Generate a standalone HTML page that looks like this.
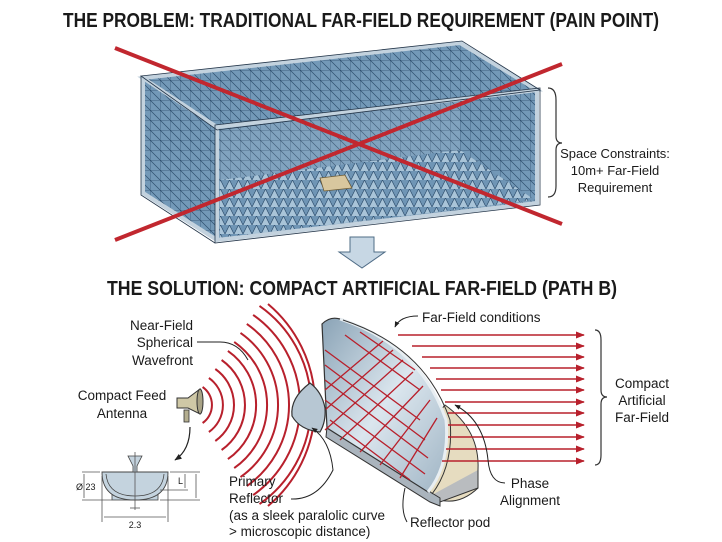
<!DOCTYPE html>
<html><head><meta charset="utf-8"><style>
html,body{margin:0;padding:0;background:#fff}
svg{display:block}
text{font-family:"Liberation Sans",sans-serif;fill:#1a1a1a}
</style></head><body>
<svg width="722" height="542" viewBox="0 0 722 542" xmlns="http://www.w3.org/2000/svg">
<defs>
<pattern id="cone" width="9" height="9" patternUnits="userSpaceOnUse">
<rect width="9" height="9" fill="#6f95b5"/>
<path d="M0 9 L4.5 0 L9 9" fill="#a9c4d8" stroke="#2f4f6e" stroke-width="0.7"/>
</pattern>
<pattern id="grid" width="10" height="10" patternUnits="userSpaceOnUse">
<rect width="10" height="10" fill="#7399b8"/>
<path d="M0 0 H10 M0 0 V10 M0 0 L10 10" stroke="#2f4f6e" stroke-width="0.7"/>
</pattern>
<linearGradient id="dish" x1="0" y1="0" x2="1" y2="1">
<stop offset="0" stop-color="#8aa3b6"/><stop offset="0.5" stop-color="#dbe6ee"/><stop offset="1" stop-color="#9fb4c4"/>
</linearGradient>
<marker id="ah" viewBox="0 0 10 10" refX="9" refY="5" markerWidth="6" markerHeight="6" orient="auto"><path d="M0 1 L10 5 L0 9z" fill="#b8202c"/></marker>
<marker id="bk" viewBox="0 0 10 10" refX="9" refY="5" markerWidth="6" markerHeight="6" orient="auto"><path d="M0 1 L10 5 L0 9z" fill="#222"/></marker>
</defs>

<text x="361" y="27" text-anchor="middle" font-size="20" font-weight="bold" textLength="596" lengthAdjust="spacingAndGlyphs">THE PROBLEM: TRADITIONAL FAR-FIELD REQUIREMENT (PAIN POINT)</text>

<!-- chamber -->
<polygon points="143,78 460,43 537,90 217,127" fill="url(#grid)" stroke="#223" stroke-width="1"/>
<polygon points="460,43 537,90 537,203 460,150" fill="url(#grid)"/>
<polygon points="143,78 217,127 217,240 143,193" fill="url(#grid)" stroke="#223"/>
<polygon points="217,127 537,90 537,203 217,240" fill="url(#grid)" opacity="0.9"/>
<polygon points="220,180 460,150 535,200 220,238" fill="url(#cone)"/>
<polygon points="320,178 345,175 352,188 324,191" fill="#d8c79e" stroke="#6b5a35" stroke-width="0.8"/>
<g fill="none" stroke="#c3d2de" stroke-width="4">
<polygon points="143,78 460,43 537,90 217,127"/>
<polygon points="217,127 537,90 537,203 217,240"/>
<polyline points="143,78 143,193 217,240"/>
</g>
<g fill="none" stroke="#24364a" stroke-width="0.8">
<polygon points="141,76 462,41 540,90 217,130"/>
<polygon points="215,125 540,88 540,205 215,243"/>
<polyline points="141,76 141,195 215,243"/>
</g>
<line x1="115" y1="48" x2="562" y2="224" stroke="#c1272f" stroke-width="4"/>
<line x1="115" y1="240" x2="562" y2="64" stroke="#c1272f" stroke-width="4"/>
<path d="M548 88 Q556 88 556 100 L556 136 Q556 143 562 143 Q556 143 556 150 L556 186 Q556 197 548 197" fill="none" stroke="#333" stroke-width="1.2"/>
<text x="615" y="158" text-anchor="middle" font-size="13">Space Constraints:</text>
<text x="615" y="175" text-anchor="middle" font-size="13">10m+ Far-Field</text>
<text x="615" y="192" text-anchor="middle" font-size="13">Requirement</text>

<polygon points="350,237 374,237 374,252 385,252 362,268 339,252 350,252" fill="#c7d7e4" stroke="#4f6c86" stroke-width="1"/>

<text x="362" y="295" text-anchor="middle" font-size="20" font-weight="bold" textLength="510" lengthAdjust="spacingAndGlyphs">THE SOLUTION: COMPACT ARTIFICIAL FAR-FIELD (PATH B)</text>

<!-- waves -->
<g fill="none" stroke="#b8202c" stroke-width="2">
<path d="M202.6 387 A22 22 0 0 1 202.6 423"/>
<path d="M208.9 378 A33 33 0 0 1 208.9 432"/>
<path d="M215.3 369 A44 44 0 0 1 215.3 441"/>
<path d="M221.6 360 A55 55 0 0 1 221.6 450"/>
<path d="M227.9 350.9 A66 66 0 0 1 227.9 459.1"/>
<path d="M234.2 341.9 A77 77 0 0 1 234.2 468.1"/>
<path d="M240.5 332.9 A88 88 0 0 1 240.5 477.1"/>
<path d="M246.8 323.9 A99 99 0 0 1 246.8 486.1"/>
<path d="M253.1 314.9 A110 110 0 0 1 253.1 495.1"/>
<path d="M259.5 305.9 A121 121 0 0 1 259.5 504.1"/>
<path d="M268 304 A132 132 0 0 1 268 506"/>
</g>

<!-- pod -->
<path d="M445 405 Q480 430 478 470 L478 488 Q460 505 440 500 L430 494 L432 420z" fill="#e6dcc0" stroke="#333" stroke-width="1"/>
<path d="M478 470 L478 488 L440 502 L430 496" fill="#b9bcbf" stroke="#333"/>
<!-- big dish -->
<path d="M327 427 L427 490 L440 498 L440 506 L430 502 L326 437z" fill="#aab4bd" stroke="#333" stroke-width="1"/>
<path d="M322 324 Q330 316 340 319 Q420 345 446 420 Q450 465 428 492 L327 428 Z" fill="url(#dish)" stroke="#333" stroke-width="1.2"/>
<path d="M340 319 Q420 345 446 420 Q450 465 428 492" fill="none" stroke="#e8eef2" stroke-width="3"/>
<path d="M343 320 Q425 347 450 420 Q454 465 432 494" fill="none" stroke="#333" stroke-width="1"/>
<!-- reflection grid -->
<g stroke="#b8202c" stroke-width="1.3" fill="none">
<path d="M325 390 L383 341 M325 410 L393 350 M325 430 L403 360 M340 440 L413 372 M360 452 L423 386 M380 465 L430 400 M400 478 L437 418"/>
<path d="M325 350 L420 420 M325 365 L425 440 M325 380 L428 458 M325 400 L425 474 M330 420 L410 480 M345 335 L420 390 M360 332 L415 370"/>
</g>
<!-- parallel rays -->
<g stroke="#b8202c" stroke-width="1.5" marker-end="url(#ah)">
<line x1="398" y1="335" x2="584" y2="335"/>
<line x1="412" y1="346" x2="584" y2="346"/>
<line x1="422" y1="357" x2="584" y2="357"/>
<line x1="430" y1="368" x2="584" y2="368"/>
<line x1="436" y1="379" x2="584" y2="379"/>
<line x1="441" y1="390" x2="584" y2="390"/>
<line x1="445" y1="402" x2="584" y2="402"/>
<line x1="448" y1="413" x2="584" y2="413"/>
<line x1="448" y1="425" x2="584" y2="425"/>
<line x1="448" y1="437" x2="584" y2="437"/>
<line x1="446" y1="449" x2="584" y2="449"/>
<line x1="442" y1="461" x2="584" y2="461"/>
</g>
<!-- primary reflector -->
<path d="M310 383 Q322 392 325 408 Q326 422 320 432 Q300 430 292 416 Q290 398 310 383z" fill="#b7c7d3" stroke="#333" stroke-width="1.2"/>
<!-- horn -->
<rect x="184" y="410" width="5" height="12" fill="#b4ae8f" stroke="#333" stroke-width="0.8"/>
<path d="M177 398 L188 398 L200 389 L200 414 L188 408 L177 408z" fill="#cfc8a6" stroke="#333" stroke-width="1"/>
<ellipse cx="200" cy="401.5" rx="3" ry="12.5" fill="#a9a386" stroke="#333"/>

<!-- brace right -->
<path d="M595 330 Q601 330 601 340 L601 390 Q601 397 607 397 Q601 397 601 404 L601 455 Q601 465 595 465" fill="none" stroke="#333" stroke-width="1.2"/>
<text x="642" y="388" text-anchor="middle" font-size="13.5">Compact</text>
<text x="642" y="405" text-anchor="middle" font-size="13.5">Artificial</text>
<text x="642" y="422" text-anchor="middle" font-size="13.5">Far-Field</text>

<!-- labels -->
<text x="422" y="322" font-size="13.5">Far-Field conditions</text>
<path d="M418 316 Q400 316 395 327" fill="none" stroke="#222" marker-end="url(#bk)"/>
<text x="193" y="330" text-anchor="end" font-size="13.5">Near-Field</text>
<text x="193" y="347" text-anchor="end" font-size="13.5">Spherical</text>
<text x="193" y="365" text-anchor="end" font-size="13.5">Wavefront</text>
<path d="M197 342 L220 342 Q238 342 248 360" fill="none" stroke="#222" stroke-width="1"/>
<text x="122" y="400" text-anchor="middle" font-size="13.5">Compact Feed</text>
<text x="122" y="418" text-anchor="middle" font-size="13.5">Antenna</text>
<path d="M190 427 Q190 450 175 460" fill="none" stroke="#222" stroke-width="1.2" marker-end="url(#bk)"/>
<text x="229" y="486" font-size="13.5">Primary</text>
<text x="229" y="503" font-size="13.5">Reflector</text>
<text x="229" y="520" font-size="13.5">(as a sleek paralolic curve</text>
<text x="229" y="536" font-size="13.5">&gt; microscopic distance)</text>
<path d="M291 499 Q318 500 333 470 Q330 440 312 428" fill="none" stroke="#222" stroke-width="1" marker-end="url(#bk)"/>
<text x="530" y="488" text-anchor="middle" font-size="13.5">Phase</text>
<text x="530" y="505" text-anchor="middle" font-size="13.5">Alignment</text>
<path d="M505 483 Q490 483 488 460 Q484 420 455 405" fill="none" stroke="#222" stroke-width="1" marker-end="url(#bk)"/>
<text x="410" y="527" font-size="13.5">Reflector pod</text>
<path d="M407 522 Q400 510 405 488" fill="none" stroke="#222" stroke-width="1"/>

<!-- small drawing -->
<rect x="112" y="488" width="46" height="12" fill="#c4d3de" stroke="#444" stroke-width="0.8"/>
<path d="M102 472 Q102 500 135 500 Q168 500 168 472 Z" fill="#c4d3de" stroke="#444" stroke-width="0.9"/>
<path d="M106 474 Q108 496 135 496 Q162 496 164 474" fill="none" stroke="#444" stroke-width="0.8"/>
<path d="M128 456 L142 456 L137 466 L137 472 L133 472 L133 466z" fill="#c4d3de" stroke="#444" stroke-width="0.8"/>
<g stroke="#555" stroke-width="0.8" fill="none">
<line x1="135" y1="452" x2="135" y2="510"/>
<line x1="82" y1="472" x2="100" y2="472"/><line x1="82" y1="500" x2="112" y2="500"/>
<line x1="84" y1="474" x2="84" y2="498"/>
<line x1="170" y1="472" x2="200" y2="472"/><line x1="160" y1="490" x2="188" y2="490"/><line x1="160" y1="500" x2="200" y2="500"/>
<line x1="185" y1="474" x2="185" y2="488"/><line x1="196" y1="474" x2="196" y2="498"/>
<line x1="102" y1="476" x2="102" y2="522"/><line x1="168" y1="476" x2="168" y2="522"/>
<line x1="104" y1="517" x2="166" y2="517"/>
<line x1="130" y1="508" x2="140" y2="508"/>
</g>
<text x="76" y="490" font-size="9" fill="#555">Ø 23</text>
<text x="135" y="528" text-anchor="middle" font-size="9" fill="#555">2.3</text>
<text x="178" y="484" font-size="9" fill="#555">L</text>
</svg>
</body></html>
